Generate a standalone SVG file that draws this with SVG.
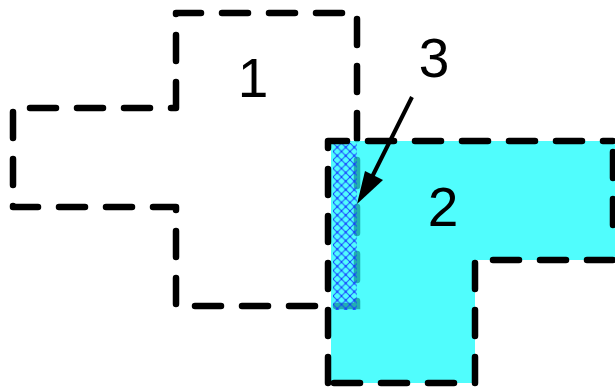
<svg xmlns="http://www.w3.org/2000/svg" width="615" height="390" viewBox="0 0 615 390">
  <style>
    .outline { fill: none; stroke: #000; stroke-width: 6.5; stroke-dasharray: 26 21; stroke-linecap: round; stroke-linejoin: round; }
    .ghost { fill: none; stroke: #159c9c; stroke-width: 6.5; stroke-dasharray: 26 21; stroke-linecap: round; opacity: 0.8; }
    .label { font-family: "Liberation Sans", Arial, sans-serif; font-size: 55px; fill: #000; text-anchor: middle; }
    .conn { stroke: #000; stroke-width: 4; fill: none; }
  </style>
  <defs>
    <pattern id="hatch" patternUnits="userSpaceOnUse" width="8.5" height="8.5" x="333" y="143">
      <path d="M0,0 L8.5,8.5 M8.5,0 L0,8.5" stroke="#1a3cff" stroke-width="1" fill="none"/>
      <circle cx="4.25" cy="4.25" r="1.1" fill="#1030ff"/>
      <circle cx="0" cy="0" r="1.1" fill="#1030ff"/>
      <circle cx="8.5" cy="0" r="1.1" fill="#1030ff"/>
      <circle cx="0" cy="8.5" r="1.1" fill="#1030ff"/>
      <circle cx="8.5" cy="8.5" r="1.1" fill="#1030ff"/>
    </pattern>
    <clipPath id="clip2">
      <polygon points="331,141 615,141 615,260 475,260 475,383 331,383"/>
    </clipPath>
  </defs>

  <g id="shape1">
    <path class="outline" d="M176,108 L176,13 L357,13 L357,306 L176,306 L176,207 L13,207 L13,108 Z"/>
  </g>

  <g id="shape2">
    <polygon points="331,141 615,141 615,260 475,260 475,383 331,383" fill="#50fdfd"/>
    <path class="ghost" clip-path="url(#clip2)" d="M176,108 L176,13 L357,13 L357,306 L176,306 L176,207 L13,207 L13,108 Z"/>
  </g>

  <g id="overlap">
    <rect x="333" y="143" width="24" height="167" fill="url(#hatch)" opacity="0.9"/>
  </g>

  <g id="shape2-outline">
    <path class="outline" d="M328,383 L328,141 L613,141 M613,152 L613,240 M613,260 L475,260 L475,383 L328,383"/>
  </g>

  <g id="connectors">
    <line class="conn" x1="412" y1="97" x2="369" y2="183"/>
    <polygon points="357,204 365,171 383,180" fill="#000"/>
  </g>

  <g id="label1"><text class="label" x="253" y="97">1</text></g>
  <g id="label2"><text class="label" x="443" y="226">2</text></g>
  <g id="label3"><text class="label" x="434" y="77">3</text></g>
</svg>
